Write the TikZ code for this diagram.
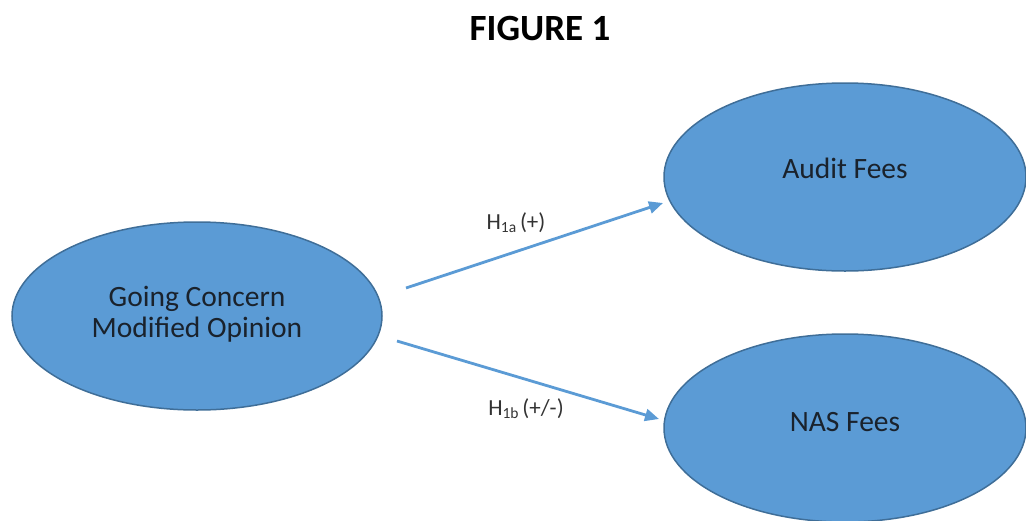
\documentclass[tikz,border=0pt]{standalone}
\usepackage{fontspec}
\setmainfont{Carlito}
\usetikzlibrary{shapes.geometric,arrows.meta}
\definecolor{ellfill}{HTML}{5B9BD5}
\definecolor{elldraw}{HTML}{3F6E98}
\definecolor{arrcol}{HTML}{5B9BD5}
\definecolor{txtcol}{HTML}{1A222C}
\newcommand{\hyp}[2]{H\raisebox{-0.1em}{\fontsize{15.5}{15.5}\selectfont #1}\,#2}
\begin{document}
\begin{tikzpicture}[x=1pt,y=-1pt,
  oval/.style={ellipse,draw=elldraw,fill=ellfill,line width=1.5pt,
    minimum width=#1,inner sep=0pt,text=txtcol,align=center,
    font=\fontsize{29.5}{33}\selectfont},
  link/.style={draw=arrcol,line width=2.8pt,-{Triangle[length=14pt,width=12pt]}},
  hlabel/.style={text=black!80,font=\fontsize{23}{25}\selectfont}]
\useasboundingbox (0,0) rectangle (1026,520);
\node[font=\fontsize{37}{40}\selectfont\bfseries] (title) at (540,29) {FIGURE 1};
\node[oval=370pt,minimum height=188pt,
  label={[text=txtcol,align=center,font=\fontsize{29.5}{33}\selectfont]center:{\raisebox{8pt}{\shortstack{Going Concern\\[2pt]Modified Opinion}}}}] (gc) at (197,316) {};
\node[oval=362pt,minimum height=188pt,
  label={[text=txtcol,font=\fontsize{29.5}{33}\selectfont,yshift=9pt]center:Audit Fees}] (af) at (845,177) {};
\node[oval=362pt,minimum height=188pt,
  label={[text=txtcol,font=\fontsize{29.5}{33}\selectfont,yshift=6pt]center:NAS Fees}] (nas) at (845,428) {};
\coordinate (s1) at (406,288);
\coordinate (e1) at (663,203);
\coordinate (s2) at (397,341);
\coordinate (e2) at (659,419);
\draw[link] (s1) -- (e1);
\draw[link] (s2) -- (e2);
\node[hlabel] (l1) at (516,223) {\hyp{1a}{(+)}};
\node[hlabel] (l2) at (526,409) {\hyp{1b}{(+/-)}};
\end{tikzpicture}
\end{document}
